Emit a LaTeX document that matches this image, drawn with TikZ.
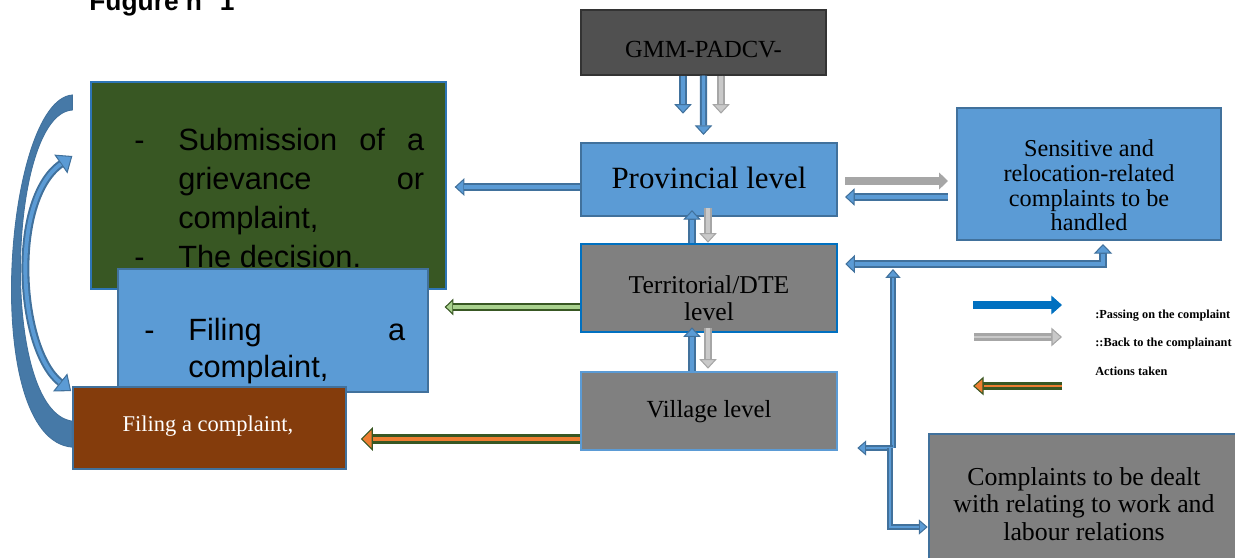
\documentclass[tikz,border=0pt]{standalone}
\usepackage{fontspec}
\setmainfont{Liberation Serif}
\setsansfont{Liberation Sans}
\usetikzlibrary{arrows.meta,calc}
\definecolor{paleblue}{HTML}{5B9BD5}
\definecolor{edgeblue}{HTML}{41719C}
\definecolor{vividblue}{HTML}{0070C0}
\definecolor{frameblue}{HTML}{2E75B6}
\definecolor{midgray}{HTML}{808080}
\definecolor{coal}{HTML}{505050}
\definecolor{forest}{HTML}{385723}
\definecolor{sprout}{HTML}{A9D18E}
\definecolor{rust}{HTML}{843C0C}
\definecolor{tangerine}{HTML}{ED7D31}
\definecolor{ashgray}{HTML}{A6A6A6}
\definecolor{ashlight}{HTML}{C9C9C9}
\tikzset{panel/.style={draw=edgeblue,line width=1.2pt,inner sep=0pt},
 txt/.style={inner sep=0pt,align=center},
 blk/.style n args={6}{draw=#1,line width=#3,
  arrows={-Triangle[width=#5,length=#6,line width=.6pt,fill=#2]},
  postaction={draw=#2,line width=#4,arrows=-,shorten >=#6}},
 blkboth/.style n args={6}{draw=#1,line width=#3,
  arrows={Triangle[width=#5,length=#6,line width=.6pt,fill=#2]-Triangle[width=#5,length=#6,line width=.6pt,fill=#2]},
  postaction={draw=#2,line width=#4,arrows=-,shorten >=#6,shorten <=#6}},
 passon/.style={blk={edgeblue}{paleblue}{4.2pt}{1.8pt}{10pt}{5.5pt}},
 goback/.style={blk={ashgray}{ashlight}{4.2pt}{1.8pt}{10pt}{5.5pt}},
 acted/.style={blk={forest}{sprout}{4pt}{1.8pt}{9.5pt}{5pt}},
 link/.style={blk={edgeblue}{paleblue}{3pt}{.9pt}{8.5pt}{5pt}}}

\begin{document}
\begin{tikzpicture}[x=0.02cm,y=-0.02cm]
\useasboundingbox (0,0) rectangle (1235,558);
\node[anchor=base west,inner sep=0pt,font=\sffamily\bfseries\fontsize{15}{18}\selectfont] (title) at (89,10) {Fugure n° 1};

% left column
\node[panel,draw=frameblue,line width=.8pt,fill=forest,minimum width=7.1cm,minimum height=4.14cm] (grn) at (268.5,185.5) {};
\node[anchor=west,inner sep=0pt,align=left,font=\sffamily\fontsize{17.5}{22.2}\selectfont] (grntext) at (134,198)
 {\makebox[25pt][l]{-}\makebox[140pt][s]{Submission of a}\\
  \hspace*{25pt}\makebox[140pt][s]{grievance or}\\
  \hspace*{25pt}complaint,\\
  \makebox[25pt][l]{-}The decision.};
\node[panel,line width=1.5pt,fill=paleblue,minimum width=6.2cm,minimum height=2.46cm] (filing) at (273,330.5) {};
\node[anchor=west,inner sep=0pt,align=left,font=\sffamily\fontsize{17.5}{21}\selectfont] (filingtext) at (144,351)
 {\makebox[25pt][l]{-}\makebox[123.5pt][s]{Filing a}\\
  \hspace*{25pt}complaint,};
\node[panel,line width=1pt,fill=rust,minimum width=5.46cm,minimum height=1.64cm] (brown) at (209.5,428) {};
\node[txt,text=white,font=\fontsize{12.8}{15}\selectfont] (browntext) at (208,426.5) {Filing a complaint,};

% levels
\node[panel,draw=black!80,line width=.8pt,fill=coal,minimum width=4.9cm,minimum height=1.3cm] (gmm) at (703.5,42.5) {};
\node[txt,font=\fontsize{14}{16}\selectfont] (gmmtext) at (703.5,50) {GMM-PADCV-};
\node[panel,fill=paleblue,minimum width=5.12cm,minimum height=1.46cm] (prov) at (709,179.5) {};
\node[txt,font=\fontsize{17.6}{20}\selectfont] (provtext) at (709,177.5) {Provincial level};
\node[panel,draw=vividblue,line width=1.5pt,fill=midgray,minimum width=5.12cm,minimum height=1.76cm] (terr) at (709,288) {};
\node[txt,font=\fontsize{14.6}{15.4}\selectfont] (terrtext) at (709,298) {Territorial/DTE\\level};
\node[panel,draw=paleblue,line width=1.5pt,fill=midgray,minimum width=5.12cm,minimum height=1.56cm] (vill) at (709,411) {};
\node[txt,font=\fontsize{14}{16}\selectfont] (villtext) at (709,412) {Village level};

% right column
\node[panel,fill=paleblue,minimum width=5.28cm,minimum height=2.64cm] (sens) at (1089,174) {};
\node[txt,font=\fontsize{13.8}{14}\selectfont] (senstext) at (1089,185.5) {Sensitive and\\relocation-related\\complaints to be\\handled};
\node[panel,line width=1.5pt,fill=midgray,minimum width=6.22cm,minimum height=2.92cm] (labour) at (1084.5,507) {};
\node[txt,font=\fontsize{14.7}{15.6}\selectfont] (labourtext) at (1084,504) {Complaints to be dealt\\with relating to work and\\labour relations};

% legend
\node[anchor=base west,inner sep=0pt,font=\bfseries\fontsize{7}{8}\selectfont] (leg1) at (1095,318) {:Passing on the complaint};
\node[anchor=base west,inner sep=0pt,font=\bfseries\fontsize{7}{8}\selectfont] (leg2) at (1095,346) {::Back to the complainant};
\node[anchor=base west,inner sep=0pt,font=\bfseries\fontsize{7}{8}\selectfont] (leg3) at (1095,375) {Actions taken};
\draw[blk={vividblue}{vividblue}{5pt}{2pt}{10.5pt}{6pt}] (973,305) -- (1062,305);
\draw[blk={ashgray}{ashlight}{4.5pt}{1.2pt}{10.5pt}{6pt}] (974,337) -- (1062,337);
\draw[blk={forest}{tangerine}{5pt}{1pt}{10.5pt}{6pt}] (1062,386) -- (973,386);

% connectors
\draw[passon] ($(gmm.south)+(-20.5,0)$) -- ++(0,38);
\draw[passon] (gmm.south) -- ($(prov.north)+(-5.5,-7)$);
\draw[goback] ($(gmm.south)+(17.5,0)$) -- ++(0,38);
\draw[passon] ($(terr.north)+(-17,0)$) -- ($(prov.south)+(-17,-7)$);
\draw[goback] ($(prov.south)+(-1,-9)$) -- ($(terr.north)+(-1,0)$);
\draw[passon] ($(vill.north)+(-17,0)$) -- ($(terr.south)+(-17,-6)$);
\draw[goback] ($(terr.south)+(-1,-5)$) -- ($(vill.north)+(-1,-2)$);
\draw[passon] ($(prov.west)+(0,7.5)$) -- ($(grn.east |- prov.west)+(8,7.5)$);
\draw[acted] ($(terr.west)+(0,19)$) -- ($(grn.east |- terr.west)+(-2,19)$);
\draw[blk={forest}{tangerine}{6pt}{2.3pt}{13.5pt}{6.8pt}] ($(vill.west)+(0,28)$) -- ($(brown.east |- vill.west)+(14,28)$);
\draw[blk={ashgray}{ashgray}{4.3pt}{1pt}{9.5pt}{5pt}] ($(prov.east)+(7,1.5)$) -- ($(sens.west |- prov.east)+(-8,1.5)$);
\draw[passon] ($(sens.west |- prov.east)+(-8,17.5)$) -- ($(prov.east)+(7,17.5)$);
\draw[blkboth={edgeblue}{paleblue}{4.2pt}{1.8pt}{10.5pt}{5.5pt}] ($(terr.east)+(7,-24)$) -| ($(sens.south)+(14,3)$);
\coordinate (hub) at (893,448);
\draw[link] (hub) -- ($(hub |- terr.east)+(0,-19)$);
\draw[link] (hub) -- ($(vill.east |- hub)+(19,0)$);
\draw[link] ($(hub)+(-3,0)$) |- ($(labour.west |- hub)+(0,79)$);

% loop on the left
\filldraw[fill=edgeblue!80!paleblue,draw=edgeblue,line width=.5pt]
 ($(brown.north west)+(0,61)$) .. controls +(-93,-8) and +(-68,5) .. ($(grn.west)+(-18,-90.5)$)
 -- ++(0,15) .. controls +(-65,4) and +(-73,-10) .. ($(brown.north west)+(0,35)$) -- cycle;
\draw[blkboth={edgeblue}{paleblue}{4.5pt}{2.2pt}{13pt}{8pt}] ($(brown.north west)+(-1,5)$)
 .. controls +(-53,-42) and +(-63,44) .. ($(grn.west)+(-18,-29.5)$);
\end{tikzpicture}
\end{document}
